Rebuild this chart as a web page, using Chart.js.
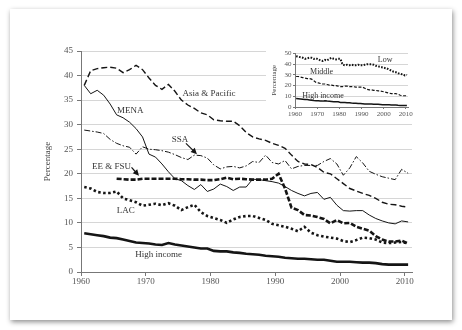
<!DOCTYPE html>
<html>
<head>
<meta charset="utf-8">
<script src="https://cdn.jsdelivr.net/npm/chart.js@4.4.0/dist/chart.umd.min.js"></script>
<style>
  html, body { margin: 0; padding: 0; background: #fff; }
  #page { position: relative; width: 462px; height: 330px; overflow: hidden; }
  #card { position: absolute; left: 10px; top: 9px; width: 442px; height: 311px; background: #fff;
          box-shadow: 1px 2px 5px rgba(0,0,0,0.45); }
  #main { position: absolute; left: 0; top: 0; }
  #inset { position: absolute; left: 266px; top: 46px; background: #fff; }
</style>
</head>
<body>
<div id="page">
  <div id="card"></div>
  <canvas id="main" width="462" height="330"></canvas>
  <canvas id="inset" width="150" height="74"></canvas>
</div>
<script>
// years 1960..2010, each value plotted at mid-year
const years = Array.from({ length: 51 }, (_, i) => 1960 + i);

const asiaPacific = [38.0, 41.0, 41.4, 41.6, 41.7, 41.5, 40.6, 41.2, 42.1, 41.2,
  39.5, 38.0, 37.2, 38.2, 36.8, 35.0, 34.0, 33.3, 32.4, 32.0,
  31.0, 30.8, 30.7, 30.7, 29.8, 28.4, 27.5, 27.1, 26.8, 26.2,
  25.8, 25.2, 23.8, 22.5, 22.0, 21.9, 21.3, 20.3, 20.0, 19.0,
  18.0, 17.0, 16.5, 16.0, 15.6, 15.0, 14.2, 13.8, 13.7, 13.4, 13.2];
const mena = [38.0, 36.3, 37.0, 36.0, 34.2, 32.0, 31.4, 30.5, 29.2, 27.5,
  24.0, 23.4, 22.0, 20.4, 19.0, 18.6, 17.6, 16.8, 17.8, 16.4,
  16.9, 17.9, 17.4, 16.6, 17.3, 17.3, 18.9, 18.8, 18.6, 18.4,
  18.1, 17.4, 16.6, 16.0, 15.5, 16.0, 16.2, 14.8, 15.2, 13.6,
  12.5, 12.4, 12.5, 12.5, 11.6, 10.9, 10.4, 10.0, 9.8, 10.4, 10.2];
const ssa = [28.9, 28.7, 28.5, 28.2, 27.0, 26.2, 25.7, 25.4, 24.0, 25.5,
  25.0, 24.9, 24.7, 24.4, 23.9, 23.3, 22.9, 23.8, 23.7, 23.2,
  21.8, 21.0, 21.4, 21.5, 21.2, 21.6, 22.5, 22.3, 23.8, 22.3,
  22.0, 22.7, 21.0, 21.5, 21.7, 21.7, 21.7, 22.5, 23.1, 22.0,
  19.7, 21.2, 23.5, 22.2, 20.5, 19.9, 19.4, 19.1, 18.8, 20.9, 20.1];
const eeFsu = [null, null, null, null, null, 19.0, 18.9, 18.8, 18.8, 19.0,
  19.0, 19.0, 19.0, 19.0, 19.0, 18.9, 18.9, 18.8, 18.8, 18.7,
  18.7, 18.9, 19.2, 18.9, 19.0, 18.9, 18.8, 18.8, 18.8, 19.0,
  20.0, 17.0, 13.1, 12.6, 11.6, 11.5, 11.2, 10.8, 9.9, 10.6,
  9.9, 10.0, 9.2, 8.8, 8.4, 7.3, 6.6, 6.2, 6.2, 6.4, 5.8];
const lac = [17.3, 17.0, 16.3, 16.1, 16.1, 16.4, 15.0, 14.6, 14.2, 13.5,
  13.7, 13.9, 13.6, 14.0, 13.5, 12.6, 13.2, 13.7, 12.2, 11.4,
  11.0, 10.6, 10.0, 10.7, 11.2, 11.4, 11.4, 11.0, 10.6, 9.8,
  9.5, 9.2, 8.8, 8.3, 9.2, 8.0, 7.5, 7.2, 7.0, 6.8,
  6.3, 6.1, 6.5, 7.0, 6.9, 6.6, 6.0, 5.9, 6.0, 6.1, 5.8];
const highIncome = [7.9, 7.7, 7.5, 7.3, 7.0, 6.9, 6.6, 6.3, 6.0, 5.9,
  5.8, 5.6, 5.5, 5.9, 5.6, 5.4, 5.2, 5.0, 4.8, 4.8,
  4.3, 4.2, 4.2, 4.0, 3.9, 3.7, 3.6, 3.5, 3.3, 3.2,
  3.1, 2.9, 2.8, 2.7, 2.7, 2.6, 2.5, 2.5, 2.3, 2.1,
  2.1, 2.1, 2.0, 1.9, 1.9, 1.8, 1.6, 1.5, 1.5, 1.5, 1.5];

// inset: by income group
const lowIncome = [47.5, 47, 46.5, 46, 45, 45.5, 46, 46, 45, 45.5,
  44.5, 43.5, 43, 44, 43.5, 45, 46, 45, 44.5, 45,
  45, 39.5, 39, 39.5, 39, 39.5, 39, 39, 39.5, 39,
  39, 39.5, 40, 40, 40, 39.5, 38.5, 38, 37.5, 37,
  36.5, 36, 35, 34, 33, 32.5, 31.5, 31, 30.5, 29.5, 30];
const middleIncome = [28.5, 28.5, 28, 27.5, 27, 26.5, 26.5, 26, 24.5, 23,
  22.5, 22, 21.5, 21.5, 21, 20.5, 20.5, 20, 20, 19.5,
  19, 19, 19.5, 19.5, 19, 19, 19, 18.5, 18.5, 18.5,
  18.5, 17.5, 16.5, 16, 16, 15.5, 15.5, 15, 15, 14.5,
  14, 13.5, 13, 12.5, 12.5, 12.5, 12, 11, 10.5, 10.5, 10.5];

const serif = "'Liberation Serif', 'Times New Roman', serif";
const ink = '#151515';
const pts = vals => years.map((yr, i) => ({ x: yr + 0.5, y: vals[i] }));

// text labels and arrows drawn at data positions
const notesPlugin = {
  id: 'notes',
  afterDatasetsDraw(chart, args, opts) {
    const { ctx } = chart;
    const sx = chart.scales.x, sy = chart.scales.y;
    ctx.save();
    ctx.font = opts.size + 'px ' + serif;
    ctx.fillStyle = '#333';
    ctx.textAlign = 'center';
    ctx.textBaseline = 'middle';
    opts.labels.forEach(l => ctx.fillText(l.text, sx.getPixelForValue(l.x), sy.getPixelForValue(l.y)));
    (opts.arrows || []).forEach(a => {
      const x0 = sx.getPixelForValue(a.from[0]), y0 = sy.getPixelForValue(a.from[1]);
      const x1 = sx.getPixelForValue(a.to[0]), y1 = sy.getPixelForValue(a.to[1]);
      const ang = Math.atan2(y1 - y0, x1 - x0);
      ctx.strokeStyle = ink;
      ctx.lineWidth = 1.2;
      ctx.beginPath();
      ctx.moveTo(x0, y0);
      ctx.lineTo(x1 - 4 * Math.cos(ang), y1 - 4 * Math.sin(ang));
      ctx.stroke();
      ctx.fillStyle = ink;
      ctx.beginPath();
      ctx.moveTo(x1, y1);
      ctx.lineTo(x1 - 6 * Math.cos(ang) + 3 * Math.sin(ang), y1 - 6 * Math.sin(ang) - 3 * Math.cos(ang));
      ctx.lineTo(x1 - 6 * Math.cos(ang) - 3 * Math.sin(ang), y1 - 6 * Math.sin(ang) + 3 * Math.cos(ang));
      ctx.closePath();
      ctx.fill();
    });
    ctx.restore();
  }
};

function line(label, vals, width, dash) {
  return { label, data: pts(vals), borderColor: ink, borderWidth: width, borderDash: dash,
           pointRadius: 0, tension: 0, fill: false, borderCapStyle: 'butt', spanGaps: false };
}

new Chart(document.getElementById('main').getContext('2d'), {
  type: 'line',
  data: {
    datasets: [
      line('Asia & Pacific', asiaPacific, 1.4, [6, 3]),
      line('MENA', mena, 1, []),
      line('SSA', ssa, 1, [6, 2, 1.5, 2]),
      line('EE & FSU', eeFsu, 2.6, [5, 2]),
      line('LAC', lac, 2.6, [2.5, 2.5]),
      line('High income', highIncome, 2.6, [])
    ]
  },
  options: {
    responsive: false,
    animation: false,
    layout: { padding: { left: 40, right: 50, top: 51, bottom: 38 } },
    plugins: {
      legend: { display: false },
      tooltip: { enabled: false },
      notes: {
        size: 9,
        labels: [
          { text: 'Asia & Pacific', x: 1979.75, y: 36.4 },
          { text: 'MENA', x: 1967.6, y: 32.8 },
          { text: 'SSA', x: 1975.3, y: 27.0 },
          { text: 'EE & FSU', x: 1964.7, y: 21.4 },
          { text: 'LAC', x: 1966.9, y: 12.5 },
          { text: 'High income', x: 1972.0, y: 3.6 }
        ],
        arrows: [
          { from: [1976.2, 26.2], to: [1977.9, 24.0] },
          { from: [1967.8, 21.3], to: [1968.95, 19.6] }
        ]
      }
    },
    scales: {
      x: {
        type: 'linear', min: 1960, max: 2011.1,
        ticks: { stepSize: 10, includeBounds: false, callback: v => String(v), maxRotation: 0,
                 font: { family: serif, size: 9 }, color: '#555', padding: 0 },
        grid: { drawOnChartArea: false, drawTicks: true, tickLength: 4, tickColor: '#777' },
        border: { color: '#777', width: 1 },
        afterFit: s => { s.height = 20; }
      },
      y: {
        min: 0, max: 45,
        ticks: { stepSize: 5, font: { family: serif, size: 9 }, color: '#555', padding: 4 },
        grid: { color: '#d6d6d6', lineWidth: 1, tickLength: 4, tickColor: '#777' },
        border: { color: '#777', width: 1 },
        title: { display: true, text: 'Percentage', font: { family: serif, size: 9 }, color: '#444',
                 padding: { top: 2, bottom: 0 } },
        afterFit: s => { s.width = 41; }
      }
    }
  },
  plugins: [notesPlugin]
});

new Chart(document.getElementById('inset').getContext('2d'), {
  type: 'line',
  data: {
    datasets: [
      line('Low', lowIncome, 2, [1.6, 1.4]),
      line('Middle', middleIncome, 1.2, [3, 1.6]),
      line('High income', highIncome, 1.5, [])
    ]
  },
  options: {
    responsive: false,
    animation: false,
    layout: { padding: { left: 2, right: 8, top: 7.5, bottom: 2 } },
    plugins: {
      legend: { display: false },
      tooltip: { enabled: false },
      notes: {
        size: 8,
        labels: [
          { text: 'Low', x: 2000.7, y: 43.8 },
          { text: 'Middle', x: 1972.0, y: 33.0 },
          { text: 'High income', x: 1972.6, y: 10.5 }
        ]
      }
    },
    scales: {
      x: {
        type: 'linear', min: 1960, max: 2011,
        ticks: { stepSize: 10, includeBounds: false, autoSkip: false, callback: v => String(v), maxRotation: 0,
                 font: { family: serif, size: 7 }, color: '#555', padding: 1 },
        grid: { drawOnChartArea: false, drawTicks: true, tickLength: 2, tickColor: '#777' },
        border: { color: '#777', width: 1 },
        afterFit: s => { s.height = 11; }
      },
      y: {
        min: 0, max: 50,
        ticks: { stepSize: 10, autoSkip: false, font: { family: serif, size: 7 }, color: '#555', padding: 1.5 },
        grid: { color: '#d6d6d6', lineWidth: 1, tickLength: 2, tickColor: '#777' },
        border: { color: '#777', width: 1 },
        title: { display: true, text: 'Percentage', font: { family: serif, size: 7 }, color: '#444',
                 padding: { top: 2, bottom: 0 } },
        afterFit: s => { s.width = 27; }
      }
    }
  },
  plugins: [notesPlugin]
});
</script>
</body>
</html>
